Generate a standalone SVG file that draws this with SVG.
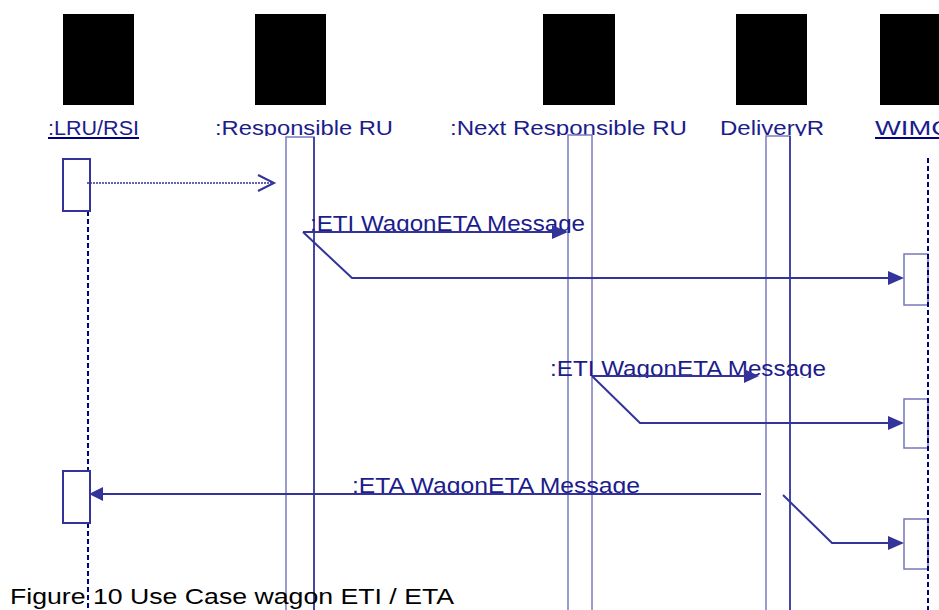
<svg xmlns="http://www.w3.org/2000/svg" width="939" height="610" viewBox="0 0 939 610">
<style>
.hd{font-family:"Liberation Sans","DejaVu Sans",sans-serif;font-size:19.5px;fill:#1c1c8c}
.msg{font-family:"Liberation Sans","DejaVu Sans",sans-serif;font-size:22px;fill:#1c1c8c}
.cap{font-family:"Liberation Sans",Arial,sans-serif;font-size:22px;fill:#000}
.icon{fill:#000}
.life{stroke:#000080;stroke-width:2;stroke-dasharray:5 3;fill:none}
.actL{fill:#fff;stroke:#333399;stroke-width:2}
.actW{fill:#fff;stroke:#7777bb;stroke-width:1.5}
.bar{fill:none;stroke:#7b7bbf;stroke-width:1.5}
.dark{stroke:#2a2a96;stroke-width:1.5}
.ln{fill:none;stroke:#333399;stroke-width:2}
.head{fill:#333399}
.ul{stroke:#000080;stroke-width:2}
</style>
<defs>
<clipPath id="cH"><rect x="0" y="0" width="939" height="136"/></clipPath>
<clipPath id="cM1"><rect x="0" y="200" width="939" height="33"/></clipPath>
<clipPath id="cM2"><rect x="0" y="340" width="939" height="38"/></clipPath>
<clipPath id="cM3"><rect x="0" y="460" width="939" height="35"/></clipPath>
</defs>

<g id="lru">
<rect class="icon" x="63" y="14" width="71" height="91"/>
<text class="hd" x="48" y="135" textLength="91" lengthAdjust="spacingAndGlyphs" clip-path="url(#cH)">:LRU/RSI</text>
<line class="ul" x1="48" y1="138" x2="139" y2="138"/>
<line class="life" x1="88" y1="211" x2="88" y2="610"/>
<rect class="actL" x="63" y="159" width="27" height="52"/>
<rect class="actL" x="63" y="471" width="27" height="52"/>
</g>

<g id="responsible-ru">
<rect class="icon" x="255" y="14" width="71" height="91"/>
<text class="hd" x="215" y="135" textLength="178" lengthAdjust="spacingAndGlyphs" clip-path="url(#cH)">:Responsible RU</text>
<rect class="bar" x="286" y="137" width="28" height="480"/>
<line class="dark" x1="314" y1="137" x2="314" y2="610"/>
</g>

<g id="next-responsible-ru">
<rect class="icon" x="543" y="14" width="72" height="91"/>
<text class="hd" x="450" y="135" textLength="237" lengthAdjust="spacingAndGlyphs" clip-path="url(#cH)">:Next Responsible RU</text>
<rect class="bar" x="568" y="135" width="24" height="480"/>
</g>

<g id="deliveryr">
<rect class="icon" x="736" y="14" width="71" height="91"/>
<text class="hd" x="720" y="135" textLength="104" lengthAdjust="spacingAndGlyphs" clip-path="url(#cH)">DeliveryR</text>
<rect class="bar" x="766" y="136" width="24" height="480"/>
<line class="dark" x1="790" y1="136" x2="790" y2="610"/>
</g>

<g id="wimc">
<rect class="icon" x="880" y="14" width="70" height="91"/>
<text class="hd" x="875" y="135" textLength="76" lengthAdjust="spacingAndGlyphs" clip-path="url(#cH)">WIMC</text>
<line class="ul" x1="875" y1="138" x2="939" y2="138"/>
<rect class="actW" x="904" y="254" width="24" height="51"/>
<rect class="actW" x="904" y="399" width="24" height="49"/>
<rect class="actW" x="904" y="519" width="24" height="50"/>
<line class="life" x1="928" y1="158" x2="928" y2="610"/>
</g>

<g id="connectors">
<line x1="87" y1="183" x2="273" y2="183" stroke="#333399" stroke-width="1.5" stroke-dasharray="2 1"/>
<polyline class="ln" points="258,175 274,183 258,191"/>

<text class="msg" x="310" y="231" textLength="275" lengthAdjust="spacingAndGlyphs" clip-path="url(#cM1)">:ETI WagonETA Message</text>
<line class="ln" x1="303" y1="232" x2="554" y2="232"/>
<polygon class="head" points="552,225 568,232 552,239"/>
<polyline class="ln" points="303,232 352,278 890,278"/>
<polygon class="head" points="888,271 904,278 888,285"/>

<text class="msg" x="550" y="376" textLength="276" lengthAdjust="spacingAndGlyphs" clip-path="url(#cM2)">:ETI WagonETA Message</text>
<line class="ln" x1="592" y1="376" x2="746" y2="376"/>
<polygon class="head" points="744,369 759,376 744,383"/>
<polyline class="ln" points="592,376 640,423 890,423"/>
<polygon class="head" points="888,416 904,423 888,430"/>

<text class="msg" x="352" y="493" textLength="288" lengthAdjust="spacingAndGlyphs" clip-path="url(#cM3)">:ETA WagonETA Message</text>
<line class="ln" x1="761" y1="494" x2="101" y2="494"/>
<polygon class="head" points="103,487 89,494 103,501"/>
<polyline class="ln" points="783,495 832,543 890,543"/>
<polygon class="head" points="888,536 904,543 888,550"/>
</g>

<text class="cap" x="10" y="604" textLength="444" lengthAdjust="spacingAndGlyphs">Figure 10 Use Case wagon ETI / ETA</text>
</svg>
